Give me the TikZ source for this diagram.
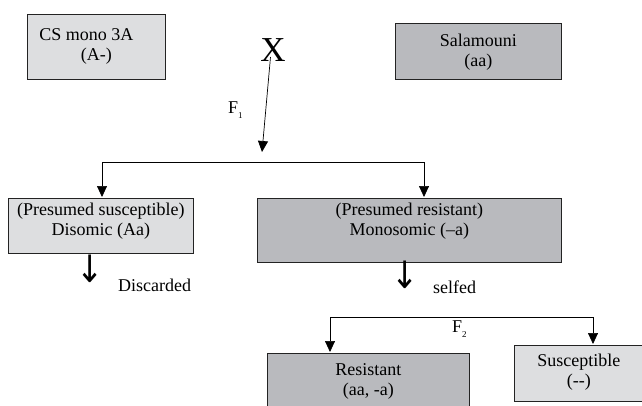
\documentclass[tikz,border=0pt]{standalone}
\usepackage{fontspec}
\setmainfont{Liberation Serif}
\newfontfamily\arrowfont{DejaVu Sans}
\usetikzlibrary{arrows.meta}
\usetikzlibrary{positioning}

\definecolor{lightbox}{RGB}{221,222,224}
\definecolor{darkbox}{RGB}{185,186,190}
\definecolor{edge}{RGB}{35,35,35}

\tikzset{
    box/.style   = {draw = edge, line width = 0.8pt, inner sep = 0pt,
                    align = center, anchor = north west},
    light/.style = {box, fill = lightbox},
    dark/.style  = {box, fill = darkbox},
    arrow/.style = {-{Triangle[length = 11pt, width = 10pt]}, line width = 0.7pt},
    label/.style = {anchor = base west, inner sep = 0pt},
    down/.style  = {inner sep = 0pt, font = \arrowfont\fontsize{26}{26}\selectfont},
}
\newcommand\downsign{\scalebox{1.25}[1.45]{↓}}

\begin{document}
\begin{tikzpicture}[x = 1pt, y = -1pt, font = \fontsize{18}{20}\selectfont]

    \useasboundingbox (0,0) rectangle (642,405);
    \clip (0,0) rectangle (642,405);

    % parents
    \node[light, minimum width = 138pt, text height = 46pt, text depth = 19pt]
        (csbox) at (27,14) {CS mono 3A\kern20pt\\(A-)};
    \node[dark, minimum width = 166pt, text height = 43.5pt, text depth = 12.5pt]
        (salbox) at (395,23) {Salamouni\\(aa)};
    \node[inner sep = 0pt, font = \fontsize{35}{40}\selectfont] (cross) at (273,50) {X};

    % F1
    \coordinate (f1end) at (262,152);
    \coordinate (split1) at (262,162);
    \coordinate (dropL) at (102,197);
    \coordinate (dropR) at (424,197);
    \draw[arrow] ([shift = {(-2.5,7)}]cross.center) -- (f1end);
    \node[label] (fone) at (228,113) {F\raisebox{-5pt}{\fontsize{9}{9}\selectfont 1}};
    \foreach \P in {dropL, dropR}
        \draw[arrow] (split1) -| (\P);

    \node[light, minimum width = 185pt, text height = 37pt, text depth = 18pt]
        (disbox) at (8,198) {(Presumed susceptible)\\Disomic (Aa)};
    \node[dark, minimum width = 304pt, text height = 37pt, text depth = 27pt]
        (monbox) at (257,198) {(Presumed resistant)\\Monosomic (–a)};

    \node[down] (disdown) at (90,269) {\downsign};
    \node[label] (discard) at (118,291) {Discarded};
    \node[down] (mondown) at (405,275) {\downsign};
    \node[label] (selfed) at (433,293) {selfed};

    % F2
    \coordinate (split2) at (460,317);
    \coordinate (dropRes) at (330,352);
    \coordinate (dropSus) at (593,344);
    \foreach \P in {dropRes, dropSus}
        \draw[arrow] (split2) -| (\P);
    \node[label] (ftwo) at (452,332) {F\raisebox{-5pt}{\fontsize{9}{9}\selectfont 2}};

    \node[dark, minimum width = 202pt, text height = 42pt, text depth = 20pt]
        (resbox) at (267,353) {Resistant\\(aa, -a)};
    \node[light, minimum width = 129pt, text height = 41pt, text depth = 15pt]
        (susbox) at (514,345) {Susceptible\\(-{}-)};

\end{tikzpicture}
\end{document}
